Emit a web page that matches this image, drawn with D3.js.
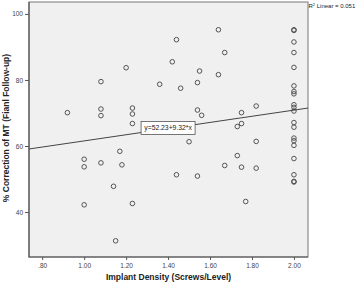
<!DOCTYPE html>
<html>
<head>
<meta charset="utf-8">
<script src="https://cdn.jsdelivr.net/npm/d3@7"></script>
<style>
  body { margin: 0; background: #fff; }
  svg { display: block; font-family: "Liberation Sans", Arial, sans-serif; }
  .tick text { fill: #444; font-size: 6.5px; }
  .tick line, .domain { stroke: #555; }
</style>
</head>
<body>
<svg width="358" height="285"></svg>
<script>
// implant density (screws/level) and % correction of MT
const density = [
  0.92, 1.00, 1.00, 1.00, 1.08, 1.08, 1.08, 1.08, 1.14, 1.15,
  1.17, 1.18, 1.20, 1.23, 1.23, 1.23, 1.23, 1.36, 1.42, 1.44,
  1.44, 1.46, 1.50, 1.54, 1.55, 1.54, 1.56, 1.54, 1.64, 1.64,
  1.67, 1.67, 1.73, 1.75, 1.75, 1.73, 1.75, 1.77, 1.82, 1.82,
  1.82,
  2.00, 2.00, 2.00, 2.00, 2.00, 2.00, 2.00, 2.00, 2.00, 2.00,
  2.00, 2.00, 2.00, 2.00, 2.00, 2.00, 2.00, 2.00, 2.00, 2.00
];
const correction = [
  70.1, 56.0, 53.7, 42.2, 79.5, 71.2, 69.2, 54.9, 47.8, 31.3,
  58.4, 54.3, 83.7, 71.5, 69.7, 66.8, 42.6, 78.7, 85.5, 92.2,
  51.3, 77.5, 61.3, 79.2, 82.7, 70.9, 69.3, 50.9, 95.2, 81.6,
  88.3, 54.1, 65.9, 66.8, 70.1, 57.1, 53.6, 43.2, 72.1, 61.4,
  53.3,
  95.2, 95.0, 91.5, 88.3, 83.8, 78.2, 76.5, 75.8, 72.5, 71.7,
  70.6, 67.1, 65.7, 62.4, 61.6, 60.2, 56.2, 51.3, 49.3, 49.1
];
const xTicks = [0.8, 1.0, 1.2, 1.4, 1.6, 1.8, 2.0];
const yTicks = [40, 60, 80, 100];
const fit = { intercept: 52.23, slope: 9.32, r2: 0.051 };

const svg = d3.select('svg');
const plot = { left: 29, right: 308, top: 2, bottom: 257 };

const x = d3.scaleLinear().domain([0.737, 2.067]).range([plot.left, plot.right]);
const y = d3.scaleLinear().domain([26.4, 103.6]).range([plot.bottom, plot.top]);

// plot background + frame
svg.append('rect')
    .attr('x', plot.left).attr('y', plot.top)
    .attr('width', plot.right - plot.left).attr('height', plot.bottom - plot.top)
    .attr('fill', '#f0f0f0')
    .attr('stroke', '#777')
    .attr('stroke-width', 1);

// axes
svg.append('g')
    .attr('transform', `translate(0,${plot.bottom})`)
    .call(d3.axisBottom(x).tickValues(xTicks).tickSize(3).tickPadding(3)
      .tickFormat(d => d3.format('.2f')(d).replace(/^0/, '')))
    .call(g => g.select('.domain').remove());

svg.append('g')
    .attr('transform', `translate(${plot.left},0)`)
    .call(d3.axisLeft(y).tickValues(yTicks).tickSize(4).tickPadding(2))
    .call(g => g.select('.domain').remove());

// left and bottom axis lines a bit darker
svg.append('path')
    .attr('d', `M${plot.left},${plot.top}V${plot.bottom}H${plot.right}`)
    .attr('fill', 'none').attr('stroke', '#555').attr('stroke-width', 1.2);

// fit line
const fx = x.domain();
svg.append('line')
    .attr('x1', x(fx[0])).attr('y1', y(fit.intercept + fit.slope * fx[0]))
    .attr('x2', x(fx[1])).attr('y2', y(fit.intercept + fit.slope * fx[1]))
    .attr('stroke', '#444').attr('stroke-width', 1);

// points
svg.append('g').selectAll('circle')
  .data(density.map((d, i) => [d, correction[i]]))
  .join('circle')
    .attr('cx', d => x(d[0]))
    .attr('cy', d => y(d[1]))
    .attr('r', 2.3)
    .attr('fill', 'none')
    .attr('stroke', '#444')
    .attr('stroke-width', 0.9);

// equation label box
const lx = 1.40;
const label = svg.append('g')
    .attr('transform', `translate(${x(lx)},${y(fit.intercept + fit.slope * lx) - 0.5})`);
const eqText = label.append('text')
    .attr('text-anchor', 'middle')
    .attr('dy', '0.35em')
    .attr('font-size', 6.8)
    .attr('fill', '#222')
    .text(`y=${fit.intercept}+${fit.slope}*x`);
const bb = eqText.node().getBBox();
label.insert('rect', 'text')
    .attr('x', -27).attr('y', -6.5)
    .attr('width', 54).attr('height', 13)
    .attr('fill', '#fff').attr('stroke', '#555').attr('stroke-width', 0.8);

// R2 note
const r2 = svg.append('text')
    .attr('x', plot.right + 0.5).attr('y', 8)
    .attr('font-size', 6).attr('fill', '#222');
r2.append('tspan').text('R');
r2.append('tspan').attr('font-size', 4).attr('dy', -2.5).text('2');
r2.append('tspan').attr('dy', 2.5).text(` Linear = ${fit.r2.toFixed(3)}`);

// axis titles
svg.append('text')
    .attr('x', (plot.left + plot.right) / 2).attr('y', 280)
    .attr('text-anchor', 'middle')
    .attr('font-size', 8.5).attr('font-weight', 'bold').attr('fill', '#222')
    .text('Implant Density (Screws/Level)');

svg.append('text')
    .attr('transform', `translate(9,128) rotate(-90)`)
    .attr('text-anchor', 'middle')
    .attr('font-size', 8.5).attr('font-weight', 'bold').attr('fill', '#222')
    .text('% Correction of MT (Fianl Follow-up)');
</script>
</body>
</html>
